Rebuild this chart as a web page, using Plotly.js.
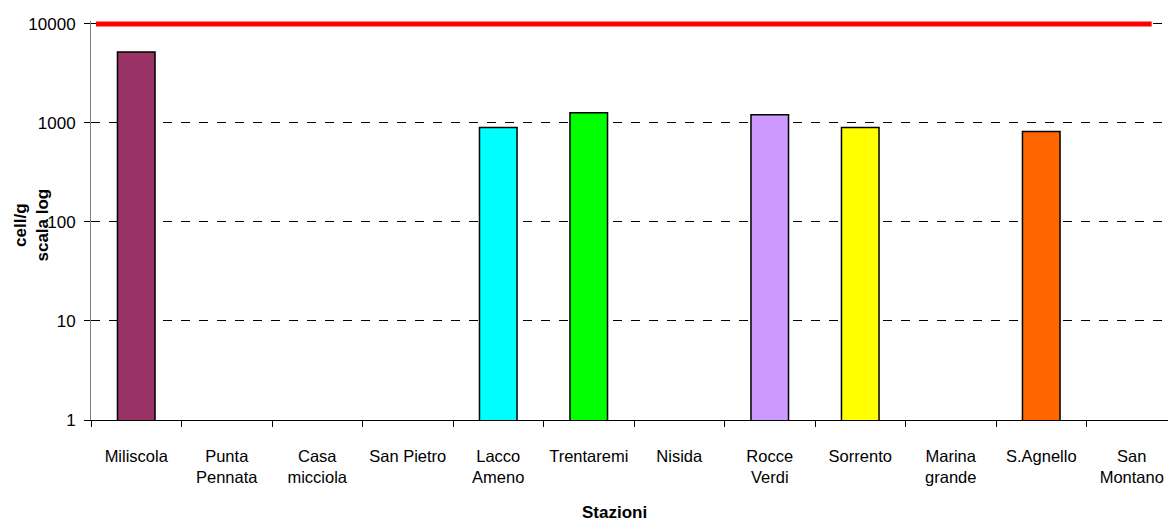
<!DOCTYPE html>
<html>
<head>
<meta charset="utf-8">
<script src="https://cdn.plot.ly/plotly-3.0.1.min.js"></script>
<style>
html,body{margin:0;padding:0;overflow:hidden;background:#fff;}
#chart{width:1177px;height:521px;}
</style>
</head>
<body>
<div id="chart"></div>
<script>
const categories = ['Miliscola','Punta Pennata','Casa micciola','San Pietro','Lacco Ameno','Trentaremi','Nisida','Rocce Verdi','Sorrento','Marina grande','S.Agnello','San Montano'];
const tickLabels = ['Miliscola','Punta<br>Pennata','Casa<br>micciola','San Pietro','Lacco<br>Ameno','Trentaremi','Nisida','Rocce<br>Verdi','Sorrento','Marina<br>grande','S.Agnello','San<br>Montano'];
const cellValues = [5200, null, null, null, 900, 1270, null, 1210, 900, null, 820, null];
const barColors = ['#993366','#993366','#993366','#993366','#00FFFF','#00FF00','#993366','#CC99FF','#FFFF00','#993366','#FF6600','#993366'];
const threshold = 10000;
const yTickVals = [1, 10, 100, 1000, 10000];
const yTickText = ['1', '10', '100', '1000', '10000'];

const font = 'Liberation Sans, Arial, sans-serif';

const trace = {
  type: 'bar',
  x: categories,
  y: cellValues,
  marker: {color: barColors, line: {color: '#000000', width: 1.5}},
  hoverinfo: 'x+y',
  showlegend: false
};

const layout = {
  width: 1177,
  height: 521,
  margin: {l: 91, r: 0, t: 21, b: 101},
  paper_bgcolor: '#ffffff',
  plot_bgcolor: '#ffffff',
  bargap: 0.585,
  font: {family: font, size: 17, color: '#000'},
  xaxis: {
    type: 'category',
    tickmode: 'array',
    tickvals: categories,
    ticktext: tickLabels,
    tickangle: 0,
    tickson: 'boundaries',
    ticks: 'outside',
    ticklen: 6,
    tickcolor: '#000',
    showline: true,
    linecolor: '#000',
    linewidth: 1,
    showgrid: false,
    tickfont: {family: font, size: 16.5, color: '#000'},
    ticklabelstandoff: 21,
    range: [-0.5, 11.5],
    fixedrange: true
  },
  yaxis: {
    type: 'log',
    range: [0, 4.03],
    tickmode: 'array',
    tickvals: yTickVals,
    ticktext: yTickText,
    ticks: 'outside',
    ticklen: 6,
    tickcolor: '#000',
    showline: true,
    linecolor: '#808080',
    linewidth: 1,
    showgrid: true,
    gridcolor: '#000',
    gridwidth: 1,
    griddash: 'dash',
    zeroline: false,
    tickfont: {family: font, size: 17, color: '#000'},
    ticklabelstandoff: 5,
    fixedrange: true
  },
  shapes: [{
    type: 'line',
    xref: 'x', yref: 'y',
    x0: -0.445, x1: 11.22,
    y0: threshold, y1: threshold,
    line: {color: '#FF0000', width: 5}
  }],
  annotations: [
    {
      text: '<b>cell/g<br>scala log</b>',
      xref: 'paper', yref: 'paper',
      x: -0.0557, y: 0.4887,
      xanchor: 'center', yanchor: 'middle',
      textangle: -90,
      showarrow: false,
      align: 'center',
      font: {family: font, size: 17, color: '#000'}
    },
    {
      text: '<b>Stazioni</b>',
      xref: 'paper', yref: 'paper',
      x: 0.4825, y: -0.2306,
      xanchor: 'center', yanchor: 'middle',
      showarrow: false,
      font: {family: font, size: 17, color: '#000'}
    }
  ]
};

Plotly.newPlot('chart', [trace], layout, {displayModeBar: false, staticPlot: true});
</script>
</body>
</html>
